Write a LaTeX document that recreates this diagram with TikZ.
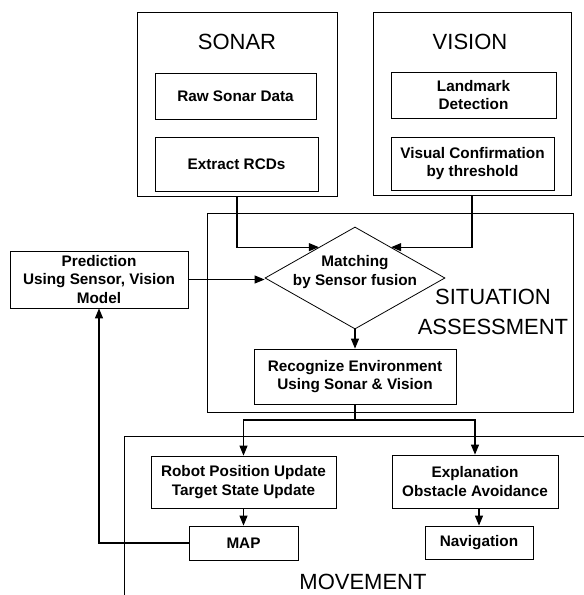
\documentclass[tikz,border=0pt]{standalone}
\usepackage{fontspec}
\setmainfont{Liberation Sans}
\usetikzlibrary{shapes.geometric,arrows.meta,calc}
\begin{document}
\begin{tikzpicture}[x=1pt,y=-1pt,
  box/.style={draw, line width=0.8pt, rectangle, inner sep=0pt, font=\bfseries\fontsize{15.3}{18.5}\selectfont, align=center},
  outer/.style={draw, line width=0.8pt, rectangle, inner sep=0pt},
  title/.style={font=\fontsize{22}{30}\selectfont, align=center, inner sep=0pt},
  arr/.style={line width=1.1pt, -{Triangle[length=10pt,width=8pt]}},
  ln/.style={line width=1.1pt}]
\useasboundingbox (0,0) rectangle (584,595);
% SONAR
\node[outer, minimum width=200pt, minimum height=184pt] (sonar) at (237,104) {};
\node[title] (sonart) at (237,42) {SONAR};
\node[box, minimum width=161pt, minimum height=46pt] (raw) at (235.5,96) {Raw Sonar Data};
\node[box, minimum width=163pt, minimum height=54pt] (rcd) at (236.5,164) {Extract RCDs};
% VISION
\node[outer, minimum width=198pt, minimum height=183pt] (vision) at (472,103.5) {};
\node[title] (visiont) at (470,42) {VISION};
\node[box, minimum width=165pt, minimum height=46pt] (land) at (473.5,95) {Landmark\\Detection};
\node[box, minimum width=163pt, minimum height=53pt] (conf) at (472.5,163.5) {Visual Confirmation\\by threshold};
% SITUATION ASSESSMENT
\node[outer, minimum width=366pt, minimum height=199pt] (sit) at (390,312.5) {};
\node[title] (sitt) at (493,312) {SITUATION\\ASSESSMENT};
\node[draw, diamond, line width=0.8pt, minimum width=180pt, minimum height=102pt, inner sep=0pt] (diam) at (355,278) {};
\node[box, draw=none] (diamt) at (355,272) {Matching\\by Sensor fusion};
\node[box, minimum width=202pt, minimum height=55pt] (recog) at (355,376.5) {Recognize Environment\\Using Sonar \& Vision};
% Prediction
\node[box, minimum width=178pt, minimum height=57pt] (pred) at (99,279.5) {Prediction\\Using Sensor, Vision\\Model};
% MOVEMENT
\coordinate (mvr) at (584,436);
\coordinate (mvc) at (124,436);
\coordinate (mvb) at (124,595);
\draw[line width=0.8pt] (mvr) -- (mvc) -- (mvb);
\node[title] (mvt) at (363,582) {MOVEMENT};
\node[box, minimum width=185pt, minimum height=52pt] (robot) at (243.5,482) {Robot Position Update\\Target State Update};
\node[box, minimum width=166pt, minimum height=53pt] (expl) at (475,481.5) {Explanation\\Obstacle Avoidance};
\node[box, minimum width=109pt, minimum height=34pt] (map) at (243.5,543) {MAP};
\node[box, minimum width=108pt, minimum height=33pt] (nav) at (479,542.5) {Navigation};
% connectors
\coordinate (dl) at ($(diam.west)!0.6!(diam.north)$);
\coordinate (dr) at ($(diam.east)!0.6!(diam.north)$);
\draw[arr] (sonar.south) |- (dl);
\draw[arr] (vision.south) |- (dr);
\draw[arr] (pred.east) -- (pred.east -| diam.west);
\draw[arr] (diam.south) -- (recog.north);
\coordinate (j) at (355,420);
\draw[ln] (recog.south) -- (j);
\draw[arr] (j) -| (robot.north);
\draw[arr] (j) -| (expl.north);
\draw[arr] (robot.south) -- (map.north);
\draw[arr] (nav.north |- expl.south) -- (nav.north);
\draw[arr] (map.west) -| (pred.south);
\end{tikzpicture}
\end{document}
